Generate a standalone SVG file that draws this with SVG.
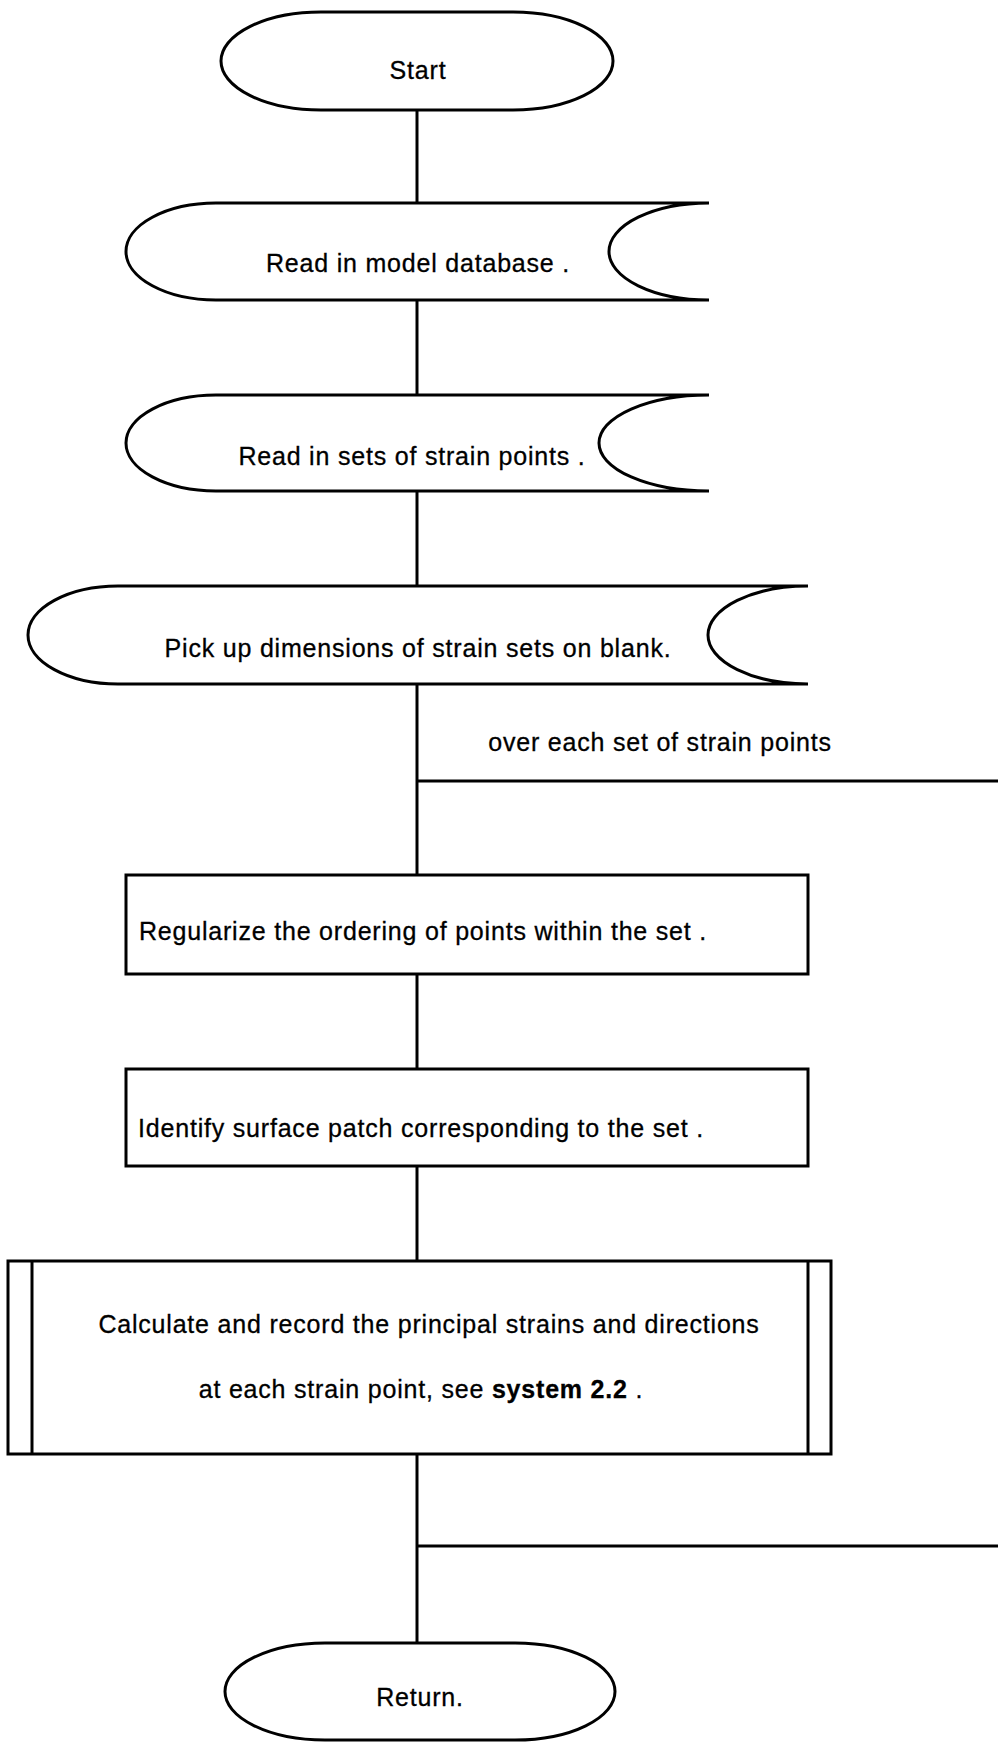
<svg xmlns="http://www.w3.org/2000/svg" width="998" height="1742" viewBox="0 0 998 1742">
<style>
.s{fill:#fff;stroke:#000;stroke-width:3}
.c{fill:none;stroke:#000;stroke-width:3}
.t{font-family:"Liberation Sans",Arial,sans-serif;font-size:25px;letter-spacing:0.8px;fill:#000;stroke:#000;stroke-width:0.3;text-anchor:middle}
.b{font-weight:bold}
</style>
<rect width="998" height="1742" fill="#fff"/>
<g id="connectors">
<line class="c" x1="417" y1="110" x2="417" y2="203"/>
<line class="c" x1="417" y1="300" x2="417" y2="395"/>
<line class="c" x1="417" y1="491" x2="417" y2="586"/>
<line class="c" x1="417" y1="684" x2="417" y2="875"/>
<line class="c" x1="417" y1="781" x2="998" y2="781"/>
<line class="c" x1="417" y1="974" x2="417" y2="1069"/>
<line class="c" x1="417" y1="1166" x2="417" y2="1261"/>
<line class="c" x1="417" y1="1454" x2="417" y2="1643"/>
<line class="c" x1="417" y1="1546" x2="998" y2="1546"/>
</g>
<g id="start">
<rect class="s" x="221" y="12" width="392" height="98" rx="100" ry="49"/>
<text class="t" x="418" y="79">Start</text>
</g>
<g id="read-model">
<path class="s" d="M709 203 L216 203 A90 48.5 0 0 0 216 300 L709 300 A100 48.5 0 0 1 709 203 Z"/>
<text class="t" x="418" y="272">Read in model database .</text>
</g>
<g id="read-sets">
<path class="s" d="M709 395 L216 395 A90 48 0 0 0 216 491 L709 491 A110 48 0 0 1 709 395 Z"/>
<text class="t" x="412" y="465">Read in sets of strain points .</text>
</g>
<g id="pick-up">
<path class="s" d="M808 586 L118 586 A90 49 0 0 0 118 684 L808 684 A100 49 0 0 1 808 586 Z"/>
<text class="t" x="418" y="657">Pick up dimensions of strain sets on blank.</text>
</g>
<g id="loop-label">
<text class="t" x="660" y="751">over each set of strain points</text>
</g>
<g id="regularize">
<rect class="s" x="126" y="875" width="682" height="99"/>
<text class="t" x="423" y="940">Regularize the ordering of points within the set .</text>
</g>
<g id="identify">
<rect class="s" x="126" y="1069" width="682" height="97"/>
<text class="t" x="421" y="1137">Identify surface patch corresponding to the set .</text>
</g>
<g id="calculate">
<rect class="s" x="8" y="1261" width="823" height="193"/>
<line class="c" x1="32" y1="1261" x2="32" y2="1454"/>
<line class="c" x1="808" y1="1261" x2="808" y2="1454"/>
<text class="t" x="429" y="1333">Calculate and record the principal strains and directions</text>
<text class="t" x="421" y="1398">at each strain point, see <tspan class="b">system 2.2</tspan> .</text>
</g>
<g id="return">
<rect class="s" x="225" y="1643" width="390" height="97" rx="100" ry="48.5"/>
<text class="t" x="420" y="1706">Return.</text>
</g>
</svg>
